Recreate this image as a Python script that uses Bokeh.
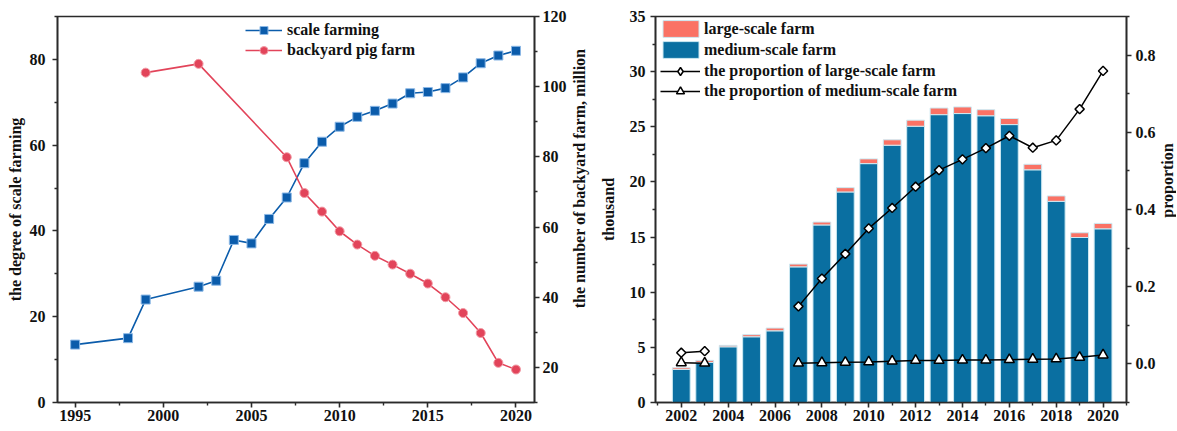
import math
from bokeh.plotting import figure
from bokeh.models import (Range1d, LinearAxis, FixedTicker, Legend, LegendItem,
                          PrintfTickFormatter, ColumnDataSource, Label)
from bokeh.layouts import row
from bokeh.embed import file_html
from bokeh.resources import INLINE

nan = float("nan")

# ---------------- left chart data ----------------
scale_years = [1995, 1998, 1999, 2002, 2003, 2004, 2005, 2006, 2007, 2008, 2009,
               2010, 2011, 2012, 2013, 2014, 2015, 2016, 2017, 2018, 2019, 2020]
scale_degree = [13.5, 15.0, 24.0, 27.0, 28.4, 37.9, 37.1, 42.8, 47.8, 55.8, 60.8,
                64.3, 66.6, 68.0, 69.7, 72.1, 72.4, 73.3, 75.8, 79.1, 80.9, 82.0]
backyard_years = [1999, 2002, 2007, 2008, 2009, 2010, 2011, 2012, 2013, 2014,
                  2015, 2016, 2017, 2018, 2019, 2020]
backyard_farms = [104.0, 106.5, 79.9, 69.7, 64.4, 58.8, 55.0, 51.8, 49.3, 46.7,
                  43.9, 40.0, 35.5, 29.8, 21.3, 19.4]

left_x_ticks = [1995, 2000, 2005, 2010, 2015, 2020]
left_x_minor = [1997.5, 2002.5, 2007.5, 2012.5, 2017.5]
left_y_ticks = [0, 20, 40, 60, 80]
left_y_minor = [10, 30, 50, 70, 90]
backyard_ticks = [20, 40, 60, 80, 100, 120]
backyard_minor = [10, 30, 50, 70, 90, 110]

# ---------------- right chart data ----------------
farm_years = [2002, 2003, 2004, 2005, 2006, 2007, 2008, 2009, 2010, 2011,
              2012, 2013, 2014, 2015, 2016, 2017, 2018, 2019, 2020]
medium_farm = [3.00, 3.64, 5.05, 5.96, 6.50, 12.30, 16.10, 19.09, 21.66, 23.33,
               25.05, 26.10, 26.20, 26.00, 25.20, 21.10, 18.24, 14.96, 15.75]
large_farm = [0.15, 0.18, 0.13, 0.19, 0.25, 0.25, 0.26, 0.39, 0.43, 0.49,
              0.55, 0.60, 0.60, 0.55, 0.55, 0.50, 0.49, 0.43, 0.49]
prop_large = [0.029, 0.033, nan, nan, nan, 0.149, 0.221, 0.285, 0.351, 0.404,
              0.459, 0.502, 0.530, 0.559, 0.591, 0.560, 0.579, 0.660, 0.759]
prop_medium = [0.003, 0.002, nan, nan, nan, 0.002, 0.003, 0.004, 0.005, 0.007,
               0.009, 0.009, 0.010, 0.010, 0.011, 0.012, 0.013, 0.017, 0.023]

right_x_ticks = [2002, 2004, 2006, 2008, 2010, 2012, 2014, 2016, 2018, 2020]
right_x_minor = [2001, 2003, 2005, 2007, 2009, 2011, 2013, 2015, 2017, 2019, 2021]
thousand_ticks = [0, 5, 10, 15, 20, 25, 30, 35]
thousand_minor = [2.5, 7.5, 12.5, 17.5, 22.5, 27.5, 32.5]
prop_ticks = [0.0, 0.2, 0.4, 0.6, 0.8]
prop_minor = [-0.1, 0.1, 0.3, 0.5, 0.7, 0.9]

FONT = "Liberation Serif"
AXIS_COLOR = "#2a2a2a"
TEXT_COLOR = "#111111"
H = 430


def style_axis(ax, label=None, standoff=3, label_standoff=3):
    ax.axis_line_color = AXIS_COLOR
    ax.axis_line_width = 1.6
    ax.major_tick_line_color = AXIS_COLOR
    ax.major_tick_line_width = 1.6
    ax.minor_tick_line_color = AXIS_COLOR
    ax.minor_tick_line_width = 1.4
    ax.major_tick_in = 0
    ax.major_tick_out = 5
    ax.minor_tick_in = 0
    ax.minor_tick_out = 3
    ax.major_label_text_font = FONT
    ax.major_label_text_font_style = "bold"
    ax.major_label_text_font_size = "16px"
    ax.major_label_text_color = TEXT_COLOR
    ax.major_label_standoff = standoff
    if label is not None:
        ax.axis_label = label
        ax.axis_label_text_font = FONT
        ax.axis_label_text_font_style = "bold"
        ax.axis_label_text_font_size = "16px"
        ax.axis_label_text_color = TEXT_COLOR
        ax.axis_label_standoff = label_standoff


def base_style(p):
    p.xgrid.visible = False
    p.ygrid.visible = False
    p.outline_line_color = AXIS_COLOR
    p.outline_line_width = 1.6
    p.background_fill_color = "white"
    p.border_fill_color = "white"


def style_legend(lg):
    lg.spacing = 0
    lg.padding = 0
    lg.margin = 0
    lg.border_line_color = None
    lg.background_fill_alpha = 0
    lg.label_text_font = FONT
    lg.label_text_font_style = "bold"
    lg.label_text_font_size = "16px"
    lg.label_text_color = TEXT_COLOR


def label_strip(text, width, x, y):
    """A narrow strip holding a vertical axis title that reads bottom-to-top."""
    s = figure(width=width, height=H, x_range=Range1d(0, 1), y_range=Range1d(0, 1),
               x_axis_type=None, y_axis_type=None, output_backend="svg",
               toolbar_location=None, min_border=0)
    s.outline_line_color = None
    s.xgrid.visible = False
    s.ygrid.visible = False
    s.background_fill_color = "white"
    s.border_fill_color = "white"
    s.add_layout(Label(x=x, y=y, x_units="screen", y_units="screen", text=text,
                       angle=math.pi / 2, angle_units="rad", text_align="center",
                       text_baseline="middle", text_font=FONT,
                       text_font_style="bold", text_font_size="16px",
                       text_color=TEXT_COLOR))
    return s


# ================= LEFT CHART =================
p1 = figure(width=569, height=H, x_range=Range1d(1994, 2021.05),
            y_range=Range1d(0, 90), output_backend="svg", toolbar_location=None,
            min_border_left=57, min_border_right=34, min_border_top=16,
            min_border_bottom=H - 402)
base_style(p1)
p1.extra_y_ranges = {"backyard": Range1d(10, 120)}
p1.xaxis.ticker = FixedTicker(ticks=left_x_ticks, minor_ticks=left_x_minor)
p1.yaxis.ticker = FixedTicker(ticks=left_y_ticks, minor_ticks=left_y_minor)
style_axis(p1.xaxis[0], standoff=2)
style_axis(p1.yaxis[0], "the degree of scale farming", standoff=7, label_standoff=3)

ax_r = LinearAxis(y_range_name="backyard",
                  ticker=FixedTicker(ticks=backyard_ticks, minor_ticks=backyard_minor))
style_axis(ax_r, standoff=3)
p1.add_layout(ax_r, "right")

BLUE = "#0b5cab"
RED = "#e2445a"
s_src = ColumnDataSource(dict(x=scale_years, y=scale_degree))
b_src = ColumnDataSource(dict(x=backyard_years, y=backyard_farms))

l1 = p1.line("x", "y", source=s_src, line_color=BLUE, line_width=1.6)
m1 = p1.scatter("x", "y", source=s_src, marker="square", size=9,
                fill_color=BLUE, line_color="#8bb8e6", line_width=1)
l2 = p1.line("x", "y", source=b_src, line_color=RED, line_width=1.6,
             y_range_name="backyard")
m2 = p1.scatter("x", "y", source=b_src, marker="circle", size=9,
                fill_color=RED, line_color="#f29aa5", line_width=1,
                y_range_name="backyard")

leg1 = Legend(items=[LegendItem(label="scale farming", renderers=[l1, m1]),
                     LegendItem(label="backyard pig farm", renderers=[l2, m2])],
              location=(188, 342))
style_legend(leg1)
leg1.glyph_width = 37
leg1.glyph_height = 20
leg1.label_height = 20
leg1.label_standoff = 5
p1.add_layout(leg1, "center")

strip1 = label_strip("the number of backyard farm, million", 27, 9.5, 224)

# ================= RIGHT CHART =================
p2 = figure(width=562, height=H, x_range=Range1d(2000.9, 2021.0),
            y_range=Range1d(0, 35), output_backend="svg", toolbar_location=None,
            min_border_left=54, min_border_right=29, min_border_top=16,
            min_border_bottom=H - 402)
base_style(p2)
p2.extra_y_ranges = {"prop": Range1d(-0.1, 0.9)}
p2.xaxis.ticker = FixedTicker(ticks=right_x_ticks, minor_ticks=right_x_minor)
p2.yaxis.ticker = FixedTicker(ticks=thousand_ticks, minor_ticks=thousand_minor)
style_axis(p2.xaxis[0], standoff=2)
style_axis(p2.yaxis[0], "thousand", standoff=5, label_standoff=10)

ax_p = LinearAxis(y_range_name="prop",
                  ticker=FixedTicker(ticks=prop_ticks, minor_ticks=prop_minor),
                  formatter=PrintfTickFormatter(format="%.1f"))
style_axis(ax_p, standoff=4)
p2.add_layout(ax_p, "right")

TEAL = "#0a6fa1"
SALMON = "#fa7265"
f_src = ColumnDataSource(dict(year=farm_years, medium=medium_farm, large=large_farm,
                              pl=prop_large, pm=prop_medium))
bars = p2.vbar_stack(["medium", "large"], x="year", width=0.76, source=f_src,
                     fill_color=[TEAL, SALMON], line_color="#cde9f2", line_width=1)

pl_line = p2.line("year", "pl", source=f_src, line_color="black", line_width=1.5,
                  y_range_name="prop")
pl_mark = p2.scatter("year", "pl", source=f_src, marker="square", size=6.5,
                     angle=math.pi / 4, fill_color="white", line_color="black",
                     line_width=1.5, y_range_name="prop")
# legend-only diamond swatch (not drawn in the plot: its point is NaN)
pl_swatch = p2.scatter(x=[nan], y=[nan], marker="diamond", size=10,
                       fill_color="white", line_color="black", line_width=1.5,
                       y_range_name="prop")
pm_line = p2.line("year", "pm", source=f_src, line_color="black", line_width=1.5,
                  y_range_name="prop")
pm_mark = p2.scatter("year", "pm", source=f_src, marker="triangle", size=10,
                     fill_color="white", line_color="black", line_width=1.5,
                     y_range_name="prop")

leg_bar = Legend(items=[LegendItem(label="large-scale farm", renderers=[bars[1]]),
                        LegendItem(label="medium-scale farm", renderers=[bars[0]])],
                 location=(3, 342))
style_legend(leg_bar)
leg_bar.glyph_width = 45
leg_bar.glyph_height = 21
leg_bar.label_height = 21
leg_bar.label_standoff = 1
p2.add_layout(leg_bar, "center")

leg_line = Legend(items=[LegendItem(label="the proportion of large-scale farm",
                                    renderers=[pl_line, pl_swatch]),
                         LegendItem(label="the proportion of medium-scale farm",
                                    renderers=[pm_line, pm_mark])],
                  location=(5, 301))
style_legend(leg_line)
leg_line.glyph_width = 40
leg_line.glyph_height = 20
leg_line.label_height = 20
leg_line.label_standoff = 4
p2.add_layout(leg_line, "center")

strip2 = label_strip("proportion", 18, 9, 222)

layout = row(p1, strip1, p2, strip2)
open("out.html", "w").write(file_html(layout, INLINE))
